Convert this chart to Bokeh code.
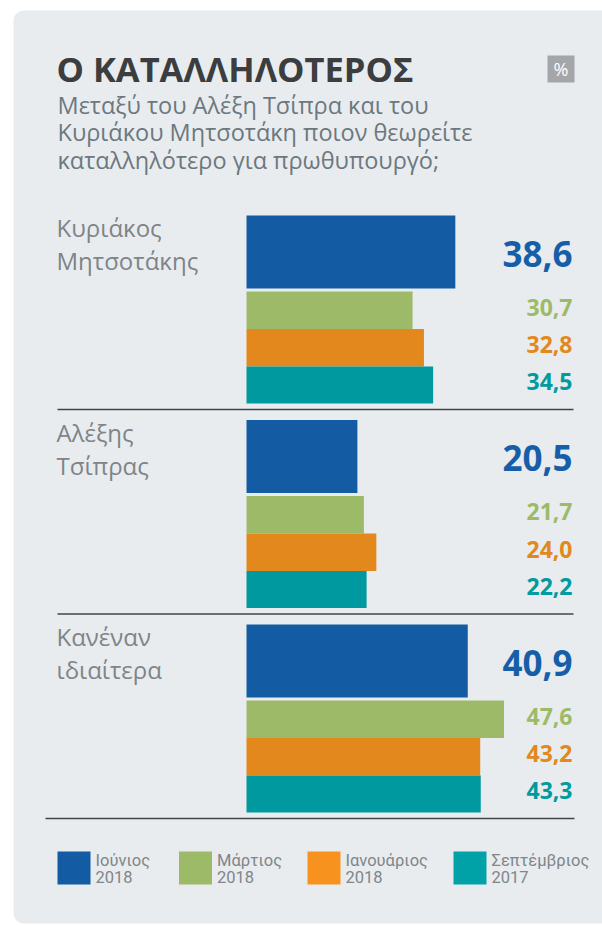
from bokeh.plotting import figure
from bokeh.models import Range1d, BoxAnnotation, ColumnDataSource
from bokeh.core.properties import value
from bokeh.embed import file_html
from bokeh.resources import INLINE

# ---------------- data ----------------
title = "Ο ΚΑΤΑΛΛΗΛΟΤΕΡΟΣ"
subtitle = ["Μεταξύ του Αλέξη Τσίπρα και του",
            "Κυριάκου Μητσοτάκη ποιον θεωρείτε",
            "καταλληλότερο για πρωθυπουργό;"]
categories = ["Κυριάκος Μητσοτάκης", "Αλέξης Τσίπρας", "Κανέναν ιδιαίτερα"]
series = ["Ιούνιος 2018", "Μάρτιος 2018", "Ιανουάριος 2018", "Σεπτέμβριος 2017"]
jun2018 = [38.6, 20.5, 40.9]
mar2018 = [30.7, 21.7, 47.6]
jan2018 = [32.8, 24.0, 43.2]
sep2017 = [34.5, 22.2, 43.3]
values_by_series = [jun2018, mar2018, jan2018, sep2017]

# ---------------- styles ----------------
bar_colors = ["#135ca4", "#9dba69", "#e2881c", "#00999f"]
legend_colors = ["#135ca4", "#9dba69", "#f7921e", "#00a2a8"]
label_colors = ["#165fa8", "#9dba69", "#e2881c", "#009a9f"]
FONT = value("Open Sans")

W, H = 602, 925
OFF = 0          # page offset of the canvas
S = 5.41         # px per percentage point
X0 = 246 - OFF   # px of zero inside the canvas
K = 0.37         # baseline correction (fraction of font size)


def dx(page_x):
    return (page_x - OFF - X0) / S


def dy(page_y):
    return page_y - OFF


def by(page_y, size):
    """y for a text whose alphabetic baseline should sit at page_y"""
    return dy(page_y - K * size)


p = figure(width=W, height=H, x_range=Range1d(-X0 / S, (W - X0) / S),
           y_range=Range1d(H, 0), output_backend="svg", toolbar_location=None,
           x_axis_type=None, y_axis_type=None, min_border=0)
p.grid.visible = False
p.outline_line_color = None
p.background_fill_color = "white"
p.border_fill_color = "white"

# card
p.add_layout(BoxAnnotation(left=dx(13), right=dx(640), top=dy(10), bottom=dy(923),
                           fill_color="#e8ecef", fill_alpha=1, line_color=None,
                           border_radius=10, level="underlay"))
# percent box
p.add_layout(BoxAnnotation(left=dx(547), right=dx(574), top=dy(55), bottom=dy(82),
                           fill_color="#a4a6a9", fill_alpha=1, line_color=None,
                           level="underlay"))
p.text(x=[dx(560.5)], y=[by(75.5, 18)], text=["%"], text_font=FONT, text_font_size="18px",
       text_color="white", text_align="center", text_baseline="alphabetic")

# title & subtitle
p.text(x=[dx(56)], y=[by(81, 34.5)], text=[title], text_font=FONT, text_font_style="bold",
       text_font_size="34.5px", text_color="#3b3d3f", text_baseline="alphabetic")
p.text(x=[dx(57)] * len(subtitle), y=[by(113 + 27.5 * i, 23.5) for i in range(len(subtitle))],
       text=subtitle, text_font=FONT, text_font_size="23.5px", text_color="#6c7880",
       text_baseline="alphabetic")

# bars
GROUP0, GSTEP = 215, 204.5
bar_tops = [0, 76, 113.5, 151]
bar_heights = [73, 37.5, 37.5, 37]
for s_i, vals in enumerate(values_by_series):
    ys = [dy(GROUP0 + g * GSTEP + bar_tops[s_i] + bar_heights[s_i] / 2) for g in range(len(categories))]
    src = ColumnDataSource(dict(y=ys, v=vals,
                                lab=[f"{v:.1f}".replace(".", ",") for v in vals]))
    p.hbar(y="y", left=0, right="v", height=bar_heights[s_i], source=src,
           fill_color=bar_colors[s_i], line_color=None)
    if s_i == 0:
        fs = 35
        src.data["ly"] = [y + 14.5 - K * fs for y in ys]
    else:
        fs = 23
        src.data["ly"] = [y + 5.5 - K * fs for y in ys]
    p.text(x=dx(572), y="ly", text="lab", source=src, text_font=FONT,
           text_font_style="bold", text_font_size=f"{fs}px", text_color=label_colors[s_i],
           text_align="right", text_baseline="alphabetic")

# category labels
for g, cat in enumerate(categories):
    first, second = cat.split(" ", 1)
    base = GROUP0 + g * GSTEP
    p.text(x=[dx(56), dx(56)], y=[by(base + 21, 24), by(base + 54, 24)], text=[first, second],
           text_font=FONT, text_font_size="24px", text_color="#7e8488",
           text_baseline="alphabetic")

# separators
sep_y = [dy(GROUP0 + g * GSTEP + 194) for g in range(len(categories))]
p.segment(x0=[dx(57), dx(57), dx(45)], x1=[dx(573), dx(573), dx(574)], y0=sep_y, y1=sep_y,
          line_color="#444444", line_width=1.6)

# legend
leg_x = [57, 178.5, 307, 453]
for i, name in enumerate(series):
    a, b = name.rsplit(" ", 1)
    p.add_layout(BoxAnnotation(left=dx(leg_x[i]), right=dx(leg_x[i] + 33), top=dy(851),
                               bottom=dy(884), fill_color=legend_colors[i], fill_alpha=1,
                               line_color=None, level="underlay"))
    p.text(x=[dx(leg_x[i] + 38)] * 2, y=[by(866, 16.5), by(883, 16.5)], text=[a, b],
           text_font=value("Roboto"), text_font_size="16.5px", text_color="#808689",
           text_baseline="alphabetic")

open("out.html", "w").write(file_html(p, INLINE))
